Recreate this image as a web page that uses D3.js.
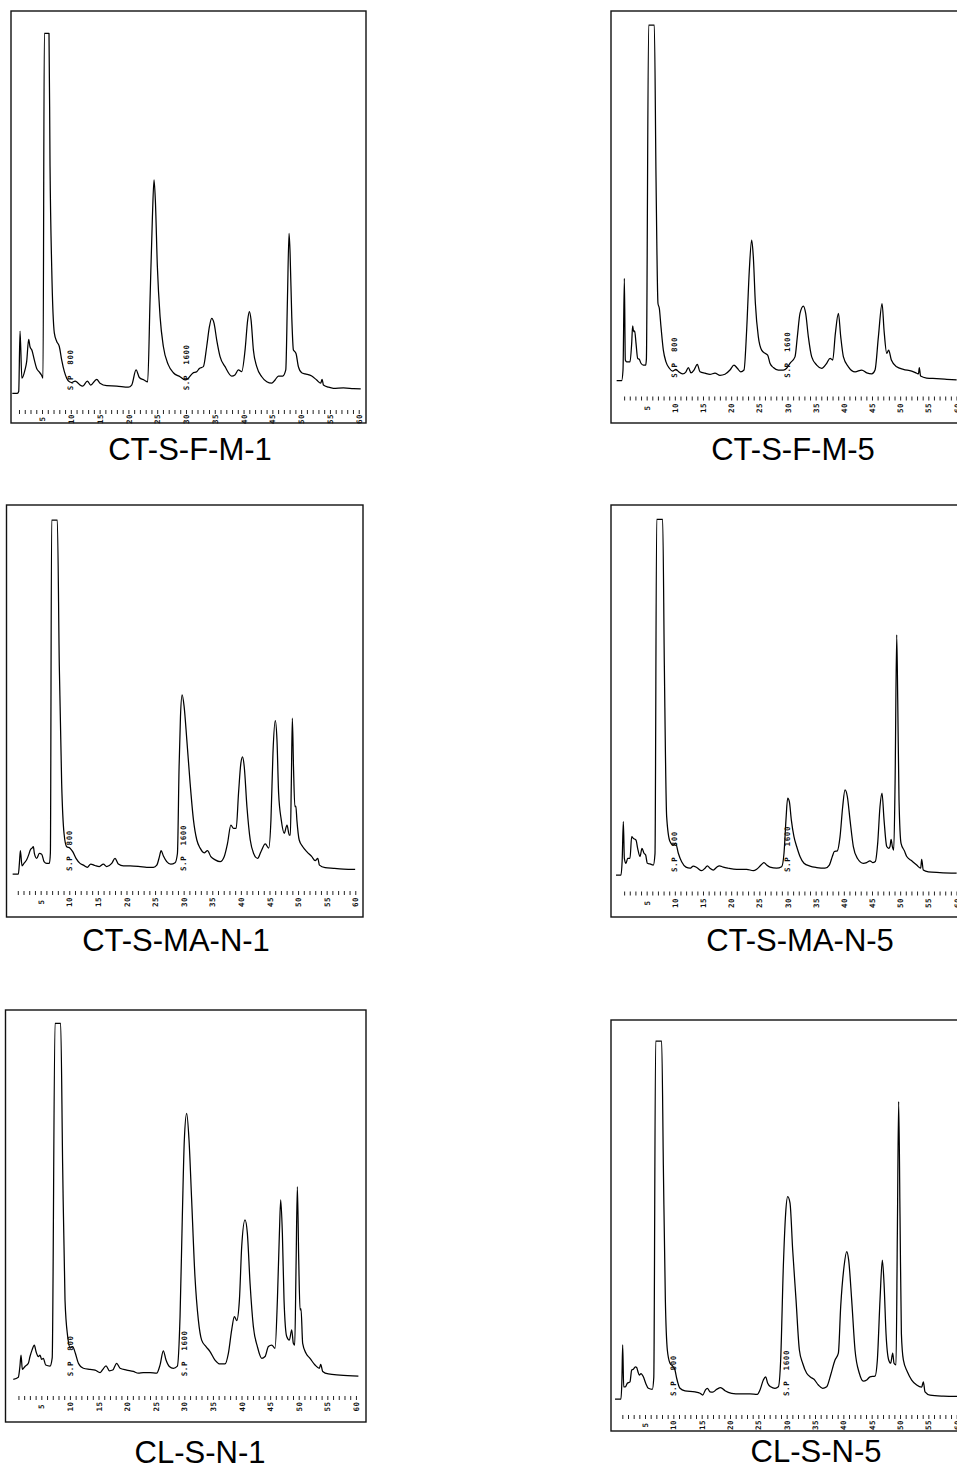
<!DOCTYPE html>
<html>
<head>
<meta charset="utf-8">
<script src="https://cdn.jsdelivr.net/npm/d3@7"></script>
<style>
  html, body { margin: 0; padding: 0; background: #fff; }
  svg { display: block; }
</style>
</head>
<body>
<svg id="chart" width="957" height="1470"></svg>
<script>
// Chromatogram traces: [retention time (min), detector signal (% of full scale)]
const traceCTSFM1 = [[-0.16,0],[0.71,0],[0.95,0.5],[1.18,17.3],[1.5,4.2],[2.04,6.5],[2.33,8.8],[2.68,15],[2.9,13],[3.26,11.9],[3.66,9.3],[4.07,6.9],[4.48,6],[4.9,5.1],[5.17,4.2],[5.4,100],[6.21,100],[6.39,63],[6.68,35],[7.14,16.7],[7.55,14.4],[8.0,13],[8.41,9.3],[8.88,6],[9.28,4.2],[9.75,3.2],[10.16,3],[10.74,3.4],[11.14,3],[11.6,2.3],[12.07,2],[12.87,3.4],[13.45,2.3],[14.5,3.9],[15.07,2.8],[16.23,2.1],[17.97,2],[19.99,1.7],[20.57,2.3],[21.33,6.5],[21.9,4.4],[22.71,3.7],[23.35,3.2],[23.76,26],[24.17,49],[24.45,59.3],[24.68,53.7],[25.03,35.2],[25.5,21.3],[26.07,13],[26.94,7.9],[27.81,5.7],[28.97,4.6],[29.84,3.7],[30.42,4.2],[31.17,5.6],[31.86,6],[32.33,6.9],[33.02,7.4],[33.6,13],[34.07,18.5],[34.47,20.8],[34.88,19.4],[35.34,14.8],[35.92,10.2],[36.79,7.4],[37.95,4.8],[38.5,5.1],[39.1,6.5],[39.68,6],[40.26,12],[40.72,20.4],[41.01,22.7],[41.3,20.4],[41.71,12],[42.29,7.4],[43.16,4.6],[44.03,3.2],[44.89,2.8],[45.47,3.7],[46.05,4.8],[46.8,4.8],[47.33,6.5],[47.62,26],[47.9,44.4],[48.08,38.9],[48.37,21.3],[48.66,12],[48.89,11.6],[49.12,11],[49.52,7.4],[50.1,5.7],[50.68,5.4],[51.84,4.8],[52.7,3.7],[53.4,2.8],[53.64,3.9],[53.87,2.3],[54.74,1.7],[55.6,1.4],[57.34,1.5],[59.1,1.3],[60.35,1.2]];

const traceCTSFM5 = [[-0.33,0],[0.56,0],[0.8,3],[1.04,28.8],[1.21,5.8],[1.45,5.3],[2.04,5.3],[2.34,10.5],[2.51,15.4],[2.69,13.8],[2.87,14],[3.11,10.5],[3.4,6.3],[3.7,6],[3.99,4.9],[4.41,4.4],[4.82,4.4],[4.95,6],[5.35,100],[6.36,100],[6.66,57],[7.01,21.7],[7.25,20.3],[7.54,15.2],[7.96,8.6],[8.43,5.3],[9.02,3.5],[9.62,2.7],[10.2,3.2],[10.68,2.5],[11.39,1.9],[11.98,2.5],[12.4,3.7],[12.87,2.2],[13.4,3],[13.99,4.6],[14.47,2.5],[15.36,2.1],[16.24,1.8],[17.13,2.1],[18.02,1.5],[18.9,1.8],[19.79,3],[20.5,4.4],[21.09,3.5],[21.69,2.5],[22.28,3],[22.75,14.2],[23.22,31],[23.64,39.5],[23.93,34.9],[24.3,21.7],[24.82,12.4],[25.41,8.6],[26.01,7.7],[26.48,7.2],[26.89,4.9],[27.49,3.7],[28.37,3],[29.26,3],[29.85,3.5],[30.44,4.9],[31.33,6.7],[31.75,12.4],[32.22,18.9],[32.82,21],[33.23,18.9],[33.7,12.4],[34.3,6.7],[35.18,4.4],[36.07,3.5],[36.96,4.9],[37.56,6.3],[38.03,5.8],[38.5,13.3],[39.04,18.9],[39.45,12.4],[39.93,6.7],[40.81,3.9],[42,2.5],[43.18,3],[44.07,2.2],[44.95,1.9],[45.54,3],[46.14,12.4],[46.79,21.7],[47.14,14.2],[47.62,7.7],[47.96,8.6],[48.44,5.8],[49.38,3.9],[50.57,3.2],[52.05,2.7],[52.94,2.1],[53.25,1.9],[53.4,3.7],[53.63,1.3],[54.7,0.75],[56.48,0.6],[58.26,0.4],[60.03,0.2]];

const traceCTSMAN1 = [[0.1,0],[1.1,0],[1.28,3],[1.45,6.6],[1.74,2.3],[2.08,3],[2.55,4],[2.9,5.4],[3.19,6.8],[3.48,7.3],[3.72,7.7],[3.9,5.8],[4.3,4.4],[4.77,5.8],[5.18,5.6],[5.59,3.5],[6.06,3],[6.53,3],[6.7,6],[6.92,100],[7.91,100],[8.26,58.6],[8.67,25.6],[9.08,11.5],[9.55,7.7],[10.13,7.3],[10.6,6.3],[11.18,4.4],[11.88,3],[12.46,2.5],[13.16,1.9],[13.75,2.8],[14.5,2.4],[15.26,2.1],[15.96,2.8],[16.55,2.1],[17.42,3],[18,4.4],[18.58,2.8],[19.46,2.3],[20.63,2.3],[22.38,2.1],[23.54,1.9],[24.71,1.9],[25.3,2.5],[25.76,4.9],[26.05,6.6],[26.46,5.1],[27.04,3.5],[27.74,2.8],[28.5,3.2],[28.91,5.8],[29.2,30.3],[29.44,44.4],[29.73,50.6],[30.08,47.3],[30.55,37.9],[31.13,25.6],[31.71,15.3],[32.3,9.6],[32.88,7.3],[33.58,6],[34.17,6.6],[34.75,4.9],[35.51,4],[36.38,3.5],[37.08,4.9],[37.67,8.7],[38.25,13.8],[38.72,12.9],[39.18,12.9],[39.59,22.8],[40,31.3],[40.3,33.1],[40.59,30.3],[41.06,19],[41.64,9.6],[42.23,5.8],[42.93,4.4],[43.51,6.3],[44.27,8.5],[44.86,7.3],[45.26,15.3],[45.61,34.1],[46.02,43.3],[46.31,37.9],[46.6,22.8],[47.06,15.3],[47.59,11.5],[48.06,13.8],[48.47,11],[48.65,11],[48.82,25.6],[49,44],[49.2,30.3],[49.44,19],[49.61,19.2],[49.79,15.3],[50.2,9.6],[50.82,7.7],[51.52,6.3],[52.4,4.9],[52.99,3.8],[53.45,4.4],[53.74,2.5],[54.73,1.8],[56.19,1.6],[57.94,1.4],[59.98,1.3]];

const traceCTSMAN5 = [[-0.44,0],[0.44,0],[0.65,4],[0.86,15],[1.04,4.7],[1.33,3.3],[1.63,4.7],[2.04,4.7],[2.34,10.8],[2.63,10.3],[3.11,9.8],[3.4,7.5],[3.82,5.2],[4.17,7.5],[4.53,6.1],[4.82,5.6],[5.12,3.3],[5.59,3.1],[6.18,2.8],[6.48,6],[6.78,100],[7.84,100],[8.14,58.6],[8.55,16.4],[9.14,9.4],[9.73,8.4],[10.15,8.9],[10.62,6.1],[11.21,3.7],[11.98,2.2],[12.69,1.9],[13.28,2.5],[13.88,2.1],[14.76,1.2],[15.36,1.9],[15.77,2.6],[16.24,1.9],[16.83,1.4],[17.43,2.2],[17.9,2.6],[18.61,2.2],[19.5,1.9],[20.98,1.6],[22.75,1.6],[23.93,1.2],[24.53,1.6],[25.3,2.8],[25.83,3.5],[26.3,2.8],[26.89,2.2],[28.07,1.9],[28.96,2.3],[29.38,6.1],[29.73,15.5],[30.03,21.6],[30.33,20.6],[30.68,15.5],[31.15,10.8],[31.63,8],[32.22,5.2],[32.93,3.3],[33.99,2.5],[35.18,2.1],[36.66,1.9],[37.43,2.8],[37.96,5.2],[38.32,6.6],[38.85,6.8],[39.33,10.8],[39.8,19.2],[40.21,23.9],[40.63,22],[41.1,15.5],[41.69,8],[42.4,4.7],[43.46,3.3],[44.05,3.5],[44.64,4],[45.12,3.5],[45.59,3.8],[46.01,8.9],[46.42,19.2],[46.78,23],[47.14,15.5],[47.62,8],[47.97,7.5],[48.2,8],[48.39,10],[48.62,8],[48.86,7],[49.1,25.8],[49.39,67.5],[49.57,49.2],[49.8,21.1],[50.16,8.9],[50.75,6.8],[51.17,5.2],[52.05,4],[52.94,2.8],[53.65,1.9],[53.82,4.4],[54.11,1.4],[55,0.9],[57.07,0.7],[60.03,0.5]];

const traceCLSN1 = [[0.1,0],[0.98,0.6],[1.25,3.5],[1.45,6.8],[1.68,2.8],[2.14,3.6],[2.73,4.5],[3.02,6.4],[3.37,8.2],[3.78,9.6],[4.07,7.8],[4.48,6.4],[4.77,6.8],[5.06,5.6],[5.35,5.9],[5.76,4],[6.52,3.7],[6.9,6],[7.39,100],[8.38,100],[8.73,59.7],[9.14,22.3],[9.61,12],[10.01,9],[10.48,9.2],[10.95,7.3],[11.48,4.5],[12.35,3.1],[13.52,2.8],[14.4,2.6],[15.26,1.9],[15.67,2.6],[16.31,3.8],[16.9,2.4],[17.48,2.6],[18.17,4.5],[18.76,3.1],[19.93,2.6],[21.08,2.2],[21.96,1.7],[22.83,1.9],[24,1.9],[25.16,1.7],[25.75,4],[26.33,8],[26.8,5.4],[27.38,3.6],[28.08,3.1],[28.78,3.7],[29.25,17.6],[29.65,45.7],[30,67.2],[30.41,74.7],[30.82,67.2],[31.28,50.4],[31.86,28.8],[32.45,16.7],[33.03,11],[33.79,9.2],[34.49,7.8],[35.36,5.4],[36.24,4.3],[37.11,4.3],[37.7,7.3],[38.28,13.9],[38.75,17.6],[39.16,16.5],[39.63,22.3],[40.03,37.3],[40.61,44.8],[41.02,41],[41.49,27],[42.07,14.8],[42.77,9.2],[43.53,5.9],[44.11,6.4],[44.7,9.2],[45.28,9.6],[45.86,8.7],[46.27,22.3],[46.62,41],[46.85,50.4],[47.14,41],[47.43,22.3],[47.9,12],[48.36,11],[48.77,13.9],[49.06,10.1],[49.3,9.6],[49.53,31.6],[49.76,54.1],[50,33.5],[50.23,19.5],[50.4,19.8],[50.69,10.1],[51.27,7.3],[51.97,5.9],[52.85,4],[53.6,3.1],[53.84,4.2],[54.19,2.2],[55.18,1.5],[57.22,1.2],[60.43,0.9]];

const traceCLSN5 = [[-0.29,0],[0.76,0],[0.92,5],[1.06,15.1],[1.24,3.4],[1.53,3.4],[1.88,4.4],[2.35,4.8],[2.65,8.1],[2.94,8.3],[3.29,9],[3.53,8.8],[3.76,7.6],[4,6.7],[4.29,7.1],[4.71,6.2],[5.12,4.4],[5.59,3],[6.29,2.7],[6.55,6],[6.88,100],[7.94,100],[8.24,64.9],[8.59,27.7],[8.94,13.7],[9.41,10],[9.88,9.2],[10.29,8.1],[10.59,5.8],[11.18,3],[12.06,2.3],[13.82,2],[14.71,1.6],[15.18,1.1],[15.65,2.5],[16,3],[16.47,2],[16.94,1.9],[17.65,2.7],[18.35,3.2],[19.12,2.3],[20.29,1.6],[21.76,1.4],[23.53,1.4],[24.82,1.3],[25.29,2.5],[25.88,5.3],[26.29,6.2],[26.65,4.4],[27.18,3.4],[27.94,3],[28.53,3.4],[28.94,10.9],[29.41,37],[29.82,51.9],[30.18,56.5],[30.59,54.7],[31.06,41.6],[31.65,27.7],[32.24,13.7],[32.82,10],[33.53,7.2],[34.24,6.1],[34.82,5.5],[35.59,3.9],[36.35,3],[37.06,3.4],[37.76,6.7],[38.53,10.9],[39.12,12.8],[39.53,25.8],[40.12,37],[40.59,41.2],[40.94,38.8],[41.47,27.7],[42.06,13.7],[42.82,7.2],[43.53,5],[44.12,5.3],[44.71,6.2],[45.59,6.4],[46,10.9],[46.47,27.7],[46.88,38.8],[47.18,32.3],[47.53,18.3],[48,10.9],[48.35,10],[48.71,12.8],[48.94,10],[49.29,9.5],[49.53,46.3],[49.76,83.1],[50,50.9],[50.24,18.3],[50.59,10.9],[51.29,7.6],[52.06,5.3],[52.94,3.9],[53.82,3.3],[54.12,4.8],[54.41,2],[55.29,1.1],[57.65,0.8],[60.12,0.7]];

// Sample names (panel captions)
const sampleNames = ["CT-S-F-M-1", "CT-S-F-M-5", "CT-S-MA-N-1", "CT-S-MA-N-5", "CL-S-N-1", "CL-S-N-5"];

// Time axis: a tick every minute, labelled every 5 minutes
const minuteTicks = d3.range(1, 61);
const labelledMinutes = d3.range(5, 61, 5);

// Recorder marks (start of programme step) and their annotation text
const markerTimes = [10, 30];
const markerTexts = ["S.P  800", "S.P  1600"];

const traces = [traceCTSFM1, traceCTSFM5, traceCTSMAN1, traceCTSMAN5, traceCLSN1, traceCLSN5];

// Panel geometry on the page
const layout = [
  { frame: [11, 11, 366, 423],    x0: 13.24,  k: 5.758, yBase: 393.3, yTop: 33.3,   tickTop: 410,   labelMid: 419,   titleX: 190, titleY: 460 },
  { frame: [611, 11, 990, 423],   x0: 618.5,  k: 5.633, yBase: 380.7, yTop: 25,     tickTop: 396.5, labelMid: 408,   titleX: 793, titleY: 460 },
  { frame: [6.5, 505, 363, 917],  x0: 12.07,  k: 5.72,  yBase: 874,   yTop: 520,    tickTop: 891,   labelMid: 902,   titleX: 176, titleY: 951 },
  { frame: [611, 505, 990, 917],  x0: 618.5,  k: 5.633, yBase: 875,   yTop: 519.3,  tickTop: 891.5, labelMid: 903,   titleX: 800, titleY: 951 },
  { frame: [5.5, 1010, 366, 1422],x0: 12.73,  k: 5.72,  yBase: 1379.3,yTop: 1023.3, tickTop: 1396,  labelMid: 1406.5,titleX: 200, titleY: 1462.5 },
  { frame: [611, 1020, 990, 1431],x0: 616.67, k: 5.667, yBase: 1399,  yTop: 1041,   tickTop: 1415,  labelMid: 1425,  titleX: 816, titleY: 1461.5 }
];

const svg = d3.select("#chart");
svg.append("rect").attr("width", 957).attr("height", 1470).attr("fill", "#fff");

const monoFont = "'DejaVu Sans Mono', 'Liberation Mono', monospace";

layout.forEach((p, i) => {
  const g = svg.append("g");
  const [l, t, r, b] = p.frame;

  const x = d3.scaleLinear().domain([0, 60]).range([p.x0, p.x0 + 60 * p.k]);
  const y = d3.scaleLinear().domain([0, 100]).range([p.yBase, p.yTop]);

  // frame
  g.append("rect")
    .attr("x", l).attr("y", t)
    .attr("width", r - l).attr("height", b - t)
    .attr("fill", "none")
    .attr("stroke", "#111")
    .attr("stroke-width", 1.4);

  // minute ticks with rotated labels
  const axis = d3.axisBottom(x)
    .tickValues(minuteTicks)
    .tickSize(4)
    .tickFormat(d => labelledMinutes.includes(d) ? String(d) : "");
  const ax = g.append("g")
    .attr("transform", `translate(0,${p.tickTop})`)
    .call(axis);
  ax.select(".domain").remove();
  ax.selectAll(".tick line").attr("stroke", "#222").attr("stroke-width", 1);
  ax.selectAll(".tick text")
    .attr("x", -(p.labelMid - p.tickTop))
    .attr("y", 0)
    .attr("dy", "0.35em")
    .attr("transform", "rotate(-90)")
    .style("text-anchor", "middle")
    .style("font-family", monoFont)
    .style("font-size", "7.5px")
    .style("font-weight", "bold")
    .style("letter-spacing", "0.5px")
    .attr("fill", "#111");

  // detector trace
  const line = d3.line()
    .x(d => x(d[0]))
    .y(d => y(d[1]))
    .curve(d3.curveMonotoneX);
  g.append("path")
    .datum(traces[i])
    .attr("d", line)
    .attr("fill", "none")
    .attr("stroke", "#000")
    .attr("stroke-width", 1.25)
    .attr("stroke-linejoin", "round");

  // programme-step annotations
  markerTimes.forEach((mt, j) => {
    g.append("text")
      .attr("transform", `translate(${x(mt)},${p.yBase - 3}) rotate(-90)`)
      .attr("dy", "0.35em")
      .style("white-space", "pre")
      .style("font-family", monoFont)
      .style("font-size", "7.5px")
      .style("font-weight", "bold")
      .style("letter-spacing", "0.6px")
      .attr("fill", "#111")
      .text(markerTexts[j]);
  });

  // caption
  svg.append("text")
    .attr("x", p.titleX)
    .attr("y", p.titleY)
    .attr("text-anchor", "middle")
    .style("font-family", "'Liberation Sans', Arial, sans-serif")
    .style("font-size", "31px")
    .attr("fill", "#000")
    .text(sampleNames[i]);
});
</script>
</body>
</html>
